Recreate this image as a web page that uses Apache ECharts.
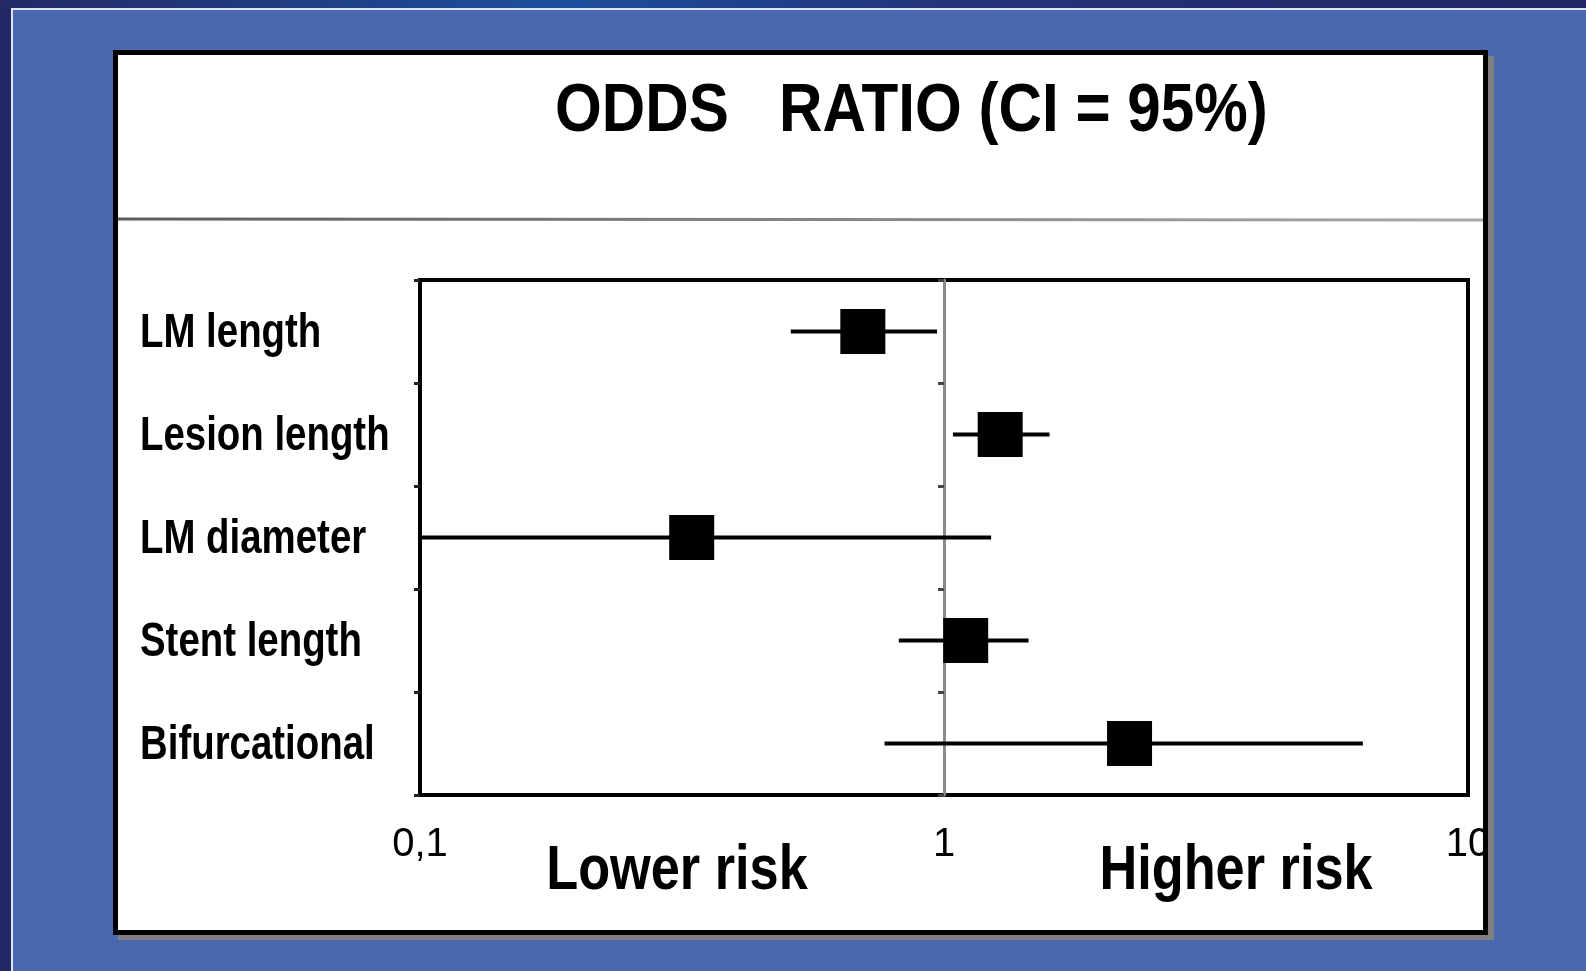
<!DOCTYPE html>
<html>
<head>
<meta charset="utf-8">
<script src="https://cdn.jsdelivr.net/npm/echarts@6/dist/echarts.min.js"></script>
<style>
html,body{margin:0;padding:0;background:#4a68b0;}
#chart{width:1586px;height:971px;}
</style>
</head>
<body>
<div id="chart"></div>
<script>
// ---- data ----
const categories = ['LM length', 'Lesion length', 'LM diameter', 'Stent length', 'Bifurcational'];
const oddsRatio = [0.70, 1.28, 0.33, 1.10, 2.26];
const ciLow = [0.51, 1.04, 0.10, 0.82, 0.77];
const ciHigh = [0.97, 1.59, 1.23, 1.45, 6.30];
const xTickValues = [0.1, 1, 10];
const xTickLabels = ['0,1', '1', '10'];
const riskLabels = ['Lower risk', 'Higher risk'];
const titleText = 'ODDS   RATIO (CI = 95%)';

const SANS = "'Liberation Sans', Arial, Helvetica, sans-serif";

const chart = echarts.init(document.getElementById('chart'), null, {renderer: 'canvas'});

function tickLabel(v) {
  for (let i = 0; i < xTickValues.length; i++) {
    if (Math.abs(v - xTickValues[i]) <= 1e-6 * xTickValues[i]) return xTickLabels[i];
  }
  return '';
}

const ciData = categories.map((c, i) => [ciLow[i], ciHigh[i], i]);
const orData = categories.map((c, i) => [oddsRatio[i], i]);

function narrowText(id, text, x, y, size, scaleX, align) {
  return {
    type: 'text', id: id, z: 10, x: x, y: y, scaleX: scaleX, scaleY: 1,
    style: {text: text, fontFamily: SANS, fontSize: size, fontWeight: 'bold', fill: '#000',
      align: align, verticalAlign: 'middle'}
  };
}

const backgroundGraphics = [
  {type: 'rect', id: 'bg0', z: -30, shape: {x: 0, y: 0, width: 1586, height: 971}, style: {fill: '#222866'}},
  {type: 'rect', id: 'bg1', z: -29, shape: {x: 0, y: 0, width: 1586, height: 9},
    style: {fill: new echarts.graphic.LinearGradient(0, 0, 1, 0, [
      {offset: 0, color: '#232a66'}, {offset: 0.35, color: '#1d4f9c'},
      {offset: 0.6, color: '#23337a'}, {offset: 1, color: '#232763'}])}},
  {type: 'rect', id: 'bg2', z: -28, shape: {x: 11, y: 8, width: 1575, height: 963}, style: {fill: '#dfe3f2'}},
  {type: 'rect', id: 'bg3', z: -27, shape: {x: 13, y: 10, width: 1573, height: 961}, style: {fill: '#4a68b0'}},
  {type: 'rect', id: 'shadow', z: -26, shape: {x: 118, y: 56, width: 1376, height: 884}, style: {fill: '#808080'}},
  {type: 'rect', id: 'panel', z: -25, shape: {x: 115.5, y: 52.5, width: 1370, height: 880},
    style: {fill: '#ffffff'}},
  {type: 'line', id: 'sep', z: -24, shape: {x1: 118, y1: 219, x2: 1483, y2: 220},
    style: {lineWidth: 3, stroke: new echarts.graphic.LinearGradient(0, 0, 1, 0, [
      {offset: 0, color: '#5c5c5c'}, {offset: 0.6, color: '#8c8c8c'}, {offset: 1, color: '#aaaaaa'}])}},
  // panel frame and right shadow drawn on top so labels at the edge are cut like the original
  {type: 'rect', id: 'shadowR', z: 20, shape: {x: 1488, y: 56, width: 6, height: 884}, style: {fill: '#808080'}},
  {type: 'rect', id: 'frame', z: 21, shape: {x: 115.5, y: 52.5, width: 1370, height: 880},
    style: {fill: 'none', stroke: '#000000', lineWidth: 5}},
  narrowText('title', titleText, 555, 112, 68, 0.885, 'left'),
  narrowText('risk0', riskLabels[0], 677, 872, 63, 0.83, 'center'),
  narrowText('risk1', riskLabels[1], 1236, 872, 63, 0.83, 'center')
];

const option = {
  backgroundColor: '#4a68b0',
  animation: false,
  graphic: backgroundGraphics,
  grid: {
    left: 420, right: 118, top: 280, bottom: 176,
    show: true, borderColor: '#000', borderWidth: 4, backgroundColor: 'transparent'
  },
  xAxis: {
    type: 'log', logBase: 10, min: 0.1, max: 10,
    axisLine: {show: false},
    axisTick: {show: false},
    splitLine: {show: false},
    minorTick: {show: false},
    axisLabel: {
      formatter: tickLabel, margin: 30, fontFamily: SANS, fontSize: 40, color: '#000',
      showMinLabel: true, showMaxLabel: true
    }
  },
  yAxis: [
    {
      type: 'category', data: categories, inverse: true,
      axisLine: {show: false},
      axisTick: {show: true, length: 6, lineStyle: {color: '#222', width: 3}},
      splitLine: {show: false},
      axisLabel: {show: false}
    },
    {
      type: 'category', data: categories, inverse: true, position: 'left', offset: 0,
      axisLine: {show: true, lineStyle: {color: '#8a8a8a', width: 3}},
      axisTick: {show: true, length: 6, lineStyle: {color: '#444', width: 3}},
      axisLabel: {show: false},
      splitLine: {show: false}
    }
  ],
  series: [
    {
      type: 'custom', xAxisIndex: 0, yAxisIndex: 0, z: 3,
      data: ciData,
      encode: {x: [0, 1], y: 2},
      renderItem: function (params, api) {
        const p1 = api.coord([api.value(0), api.value(2)]);
        const p2 = api.coord([api.value(1), api.value(2)]);
        return {type: 'line', shape: {x1: p1[0], y1: p1[1], x2: p2[0], y2: p2[1]},
          style: {stroke: '#000', lineWidth: 4}};
      }
    },
    {
      type: 'scatter', xAxisIndex: 0, yAxisIndex: 0, z: 4,
      symbol: 'rect', symbolSize: 45,
      itemStyle: {color: '#000', opacity: 1},
      data: orData
    }
  ]
};

chart.setOption(option);
// reference axis line at odds ratio = 1, placed through the x scale
const px = chart.convertToPixel({xAxisIndex: 0}, 1);
// category labels placed through the y scale, left-aligned in the panel
const catLabels = categories.map((c, i) => {
  const py = chart.convertToPixel({yAxisIndex: 0}, c);
  return narrowText('cat' + i, c, 140, py + 2, 48, 0.8, 'left');
});
chart.setOption({yAxis: [{}, {offset: 420 - px}], graphic: catLabels});
</script>
</body>
</html>
